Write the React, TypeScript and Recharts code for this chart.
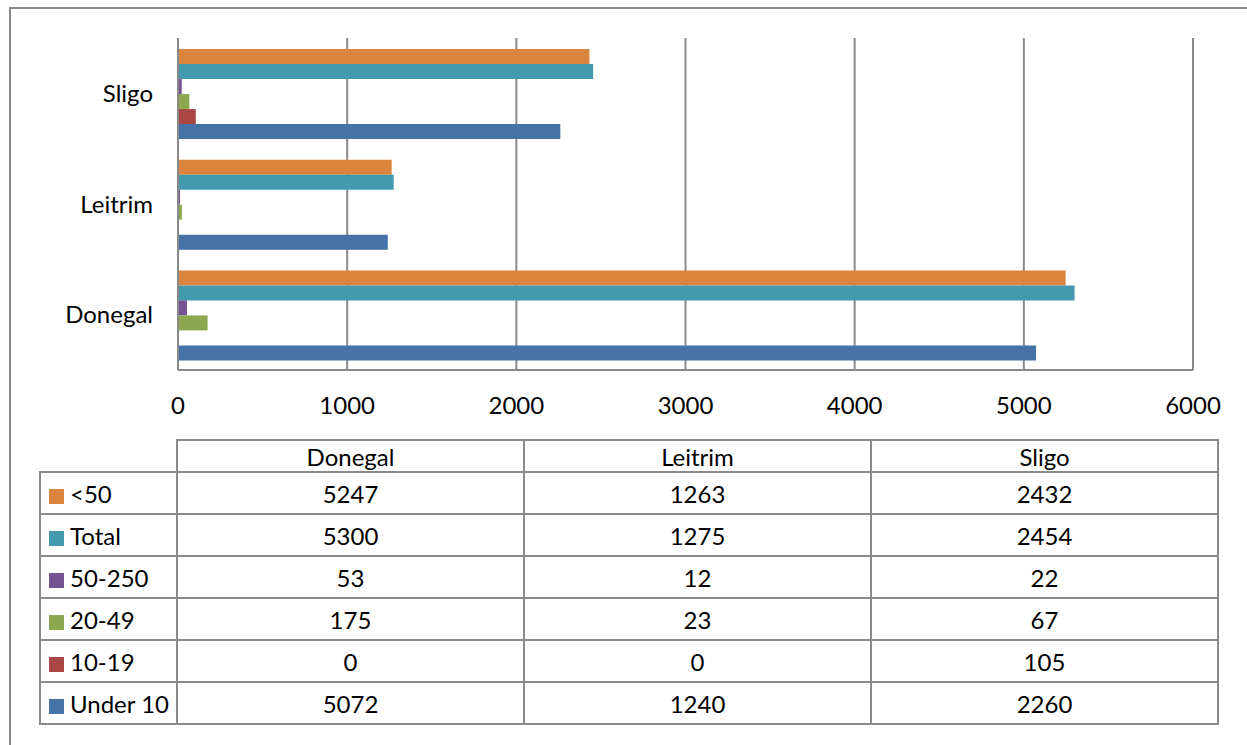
import { BarChart, Bar, XAxis, YAxis, CartesianGrid } from 'recharts'

const AREAS = ['Donegal', 'Leitrim', 'Sligo']
const X_TICKS = [0, 1000, 2000, 3000, 4000, 5000, 6000]

// series, top of each group first
const SERIES = ['<50', 'Total', '50-250', '20-49', '10-19', 'Under 10']
const LT50 = [5247, 1263, 2432]
const TOTAL = [5300, 1275, 2454]
const R50_250 = [53, 12, 22]
const R20_49 = [175, 23, 67]
const R10_19 = [0, 0, 105]
const UNDER10 = [5072, 1240, 2260]

const VALUES = [LT50, TOTAL, R50_250, R20_49, R10_19, UNDER10]
const CORES = ['#DB843D', '#4399AE', '#735391', '#8BA84F', '#AA4643', '#4572A7']

const FONT = 'Lato, "Open Sans", sans-serif'
const LINE = '#8a8a8a'

export default function App() {
  const dados = AREAS.map((area, i) => {
    const row: Record<string, string | number> = { area }
    SERIES.forEach((s, j) => {
      row[s] = VALUES[j][i]
    })
    return row
  })

  const cell = {
    border: `2px solid ${LINE}`,
    padding: 0,
    textAlign: 'center' as const,
    fontSize: 24,
    color: '#000',
  }

  return (
    <div
      style={{
        position: 'absolute',
        left: 0,
        top: 0,
        width: 1247,
        height: 745,
        overflow: 'hidden',
        background: '#fff',
        fontFamily: FONT,
      }}
    >
      <div
        style={{
          position: 'absolute',
          left: 9,
          top: 7,
          width: 1300,
          height: 800,
          borderLeft: `2px solid ${LINE}`,
          borderTop: `2px solid ${LINE}`,
        }}
      />
      <div style={{ position: 'absolute', left: 0, top: 0 }}>
        <BarChart
          width={1247}
          height={440}
          data={dados}
          layout="vertical"
          margin={{ top: 38, right: 54, bottom: 0, left: 0 }}
          barCategoryGap="10%"
          barGap={0}
        >
          <CartesianGrid horizontal={false} stroke={LINE} strokeWidth={2} />
          <XAxis
            type="number"
            domain={[0, 6000]}
            ticks={X_TICKS}
            interval={0}
            height={70}
            tickLine={false}
            tickMargin={21}
            axisLine={{ stroke: LINE, strokeWidth: 2 }}
            tick={{ fill: '#000', fontSize: 24, fontFamily: FONT }}
          />
          <YAxis
            type="category"
            dataKey="area"
            reversed
            width={178}
            tickLine={false}
            tickMargin={19}
            axisLine={{ stroke: LINE, strokeWidth: 2 }}
            tick={{ fill: '#000', fontSize: 24, fontFamily: FONT }}
          />
          {SERIES.map((s, j) => (
            <Bar key={s} dataKey={s} fill={CORES[j]} isAnimationActive={false} />
          ))}
        </BarChart>
      </div>
      <table
        style={{
          position: 'absolute',
          left: 39,
          top: 439,
          borderCollapse: 'collapse',
          fontFamily: FONT,
        }}
      >
        <tbody>
          <tr style={{ height: 32 }}>
            <td style={{ width: 136, padding: 0, border: 'none' }} />
            {AREAS.map((a) => (
              <td key={a} style={{ ...cell, width: 345 }}>
                {a}
              </td>
            ))}
          </tr>
          {SERIES.map((s, j) => (
            <tr key={s} style={{ height: 42 }}>
              <td style={{ ...cell, textAlign: 'left', whiteSpace: 'nowrap' }}>
                <span
                  style={{
                    display: 'inline-block',
                    width: 15,
                    height: 15,
                    background: CORES[j],
                    marginLeft: 8,
                    marginRight: 6,
                    verticalAlign: -1,
                  }}
                />
                {s}
              </td>
              {VALUES[j].map((v, i) => (
                <td key={i} style={cell}>
                  {v}
                </td>
              ))}
            </tr>
          ))}
        </tbody>
      </table>
    </div>
  )
}
